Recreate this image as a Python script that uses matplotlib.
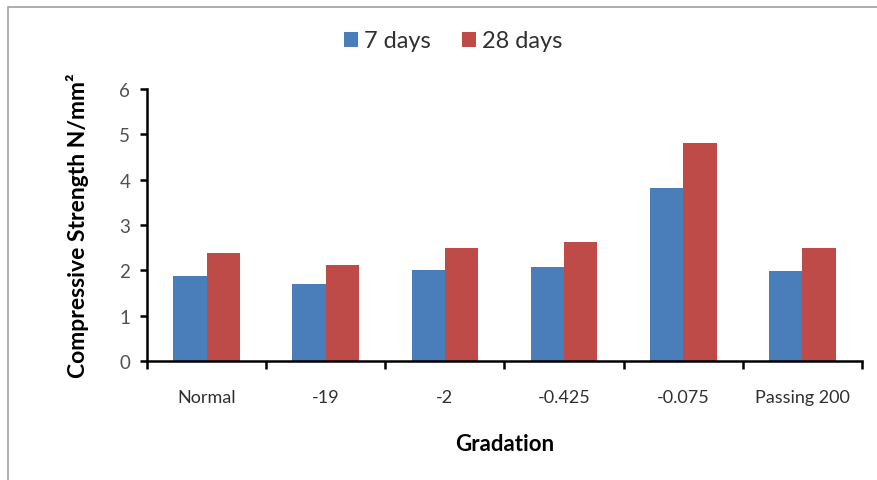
import matplotlib
matplotlib.use("Agg")
import matplotlib.pyplot as plt
from matplotlib.patches import Rectangle
import numpy as np

plt.rcParams['font.family'] = ['Lato', 'DejaVu Sans']

categories = ["Normal", "-19", "-2", "-0.425", "-0.075", "Passing 200"]
days7 = [1.88, 1.70, 2.00, 2.07, 3.82, 1.98]
days28 = [2.38, 2.12, 2.50, 2.62, 4.81, 2.50]
yticks = [0, 1, 2, 3, 4, 5, 6]

blue = "#4a7ebb"
red = "#be4b48"

fig = plt.figure(figsize=(8.77, 4.81), dpi=100)
fig.patches.append(Rectangle((8 / 877, -0.1), 1.2, 1 - 8 / 481 + 0.1,
                             transform=fig.transFigure, fill=False,
                             edgecolor="#a0a0a0", linewidth=1.2))

ax = fig.add_axes([147 / 877, 1 - 362 / 481, (862 - 147) / 877, (362 - 90) / 481])
x = np.arange(len(categories))
w = 0.28
ax.bar(x - w / 2, days7, width=w, color=blue, label="7 days")
ax.bar(x + w / 2, days28, width=w, color=red, label="28 days")

ax.set_xlim(-0.5, len(categories) - 0.5)
ax.set_ylim(0, 6)
ax.set_yticks(yticks)
ax.set_yticklabels([str(t) for t in yticks], fontsize=13.5, color="#505050")
ax.set_xticks(x)
ax.set_xticklabels(categories, fontsize=13, color="#303030")
ax.set_xticks(np.arange(len(categories) + 1) - 0.5, minor=True)
ax.tick_params(axis="x", which="major", length=0, pad=20)
ax.tick_params(axis="x", which="minor", length=6, width=1.8, direction="out")
ax.tick_params(axis="y", length=5, width=1.8, direction="out", pad=7)

for s in ["top", "right"]:
    ax.spines[s].set_visible(False)
ax.spines["left"].set_linewidth(1.8)
ax.spines["bottom"].set_linewidth(1.8)

ax.set_ylabel("Compressive Strength N/mm²", fontsize=16.5, fontweight="bold", labelpad=22)
ax.set_xlabel("Gradation", fontsize=16, fontweight="bold", labelpad=20)

fig.legend(loc="center", bbox_to_anchor=(453 / 877, 1 - 42 / 481), ncol=2,
           frameon=False, fontsize=17, handlelength=0.6, handleheight=0.6,
           handletextpad=0.25, columnspacing=1.3, labelcolor="#303030")

fig.savefig("out.png", dpi=100)
